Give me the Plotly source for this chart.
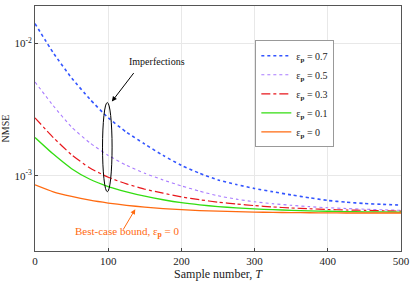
import plotly.graph_objects as go

T = [0, 25, 50, 75, 100, 125, 150, 175, 200, 225, 250, 275, 300, 325, 350, 375, 400, 425, 450, 475, 500]

nmse_07 = [0.01416, 0.00851, 0.00550, 0.00380, 0.00275, 0.00214, 0.00174, 0.001429, 0.001202, 0.001047,
           0.000933, 0.000861, 0.000804, 0.000759, 0.000719, 0.000684, 0.000653, 0.000634, 0.000619, 0.000610, 0.000603]
nmse_05 = [0.00513, 0.00339, 0.00234, 0.001778, 0.001429, 0.001202, 0.001047, 0.000933, 0.000841, 0.000767,
           0.000708, 0.000668, 0.000638, 0.000617, 0.000600, 0.000586, 0.000575, 0.000568, 0.000561, 0.000555, 0.000550]
nmse_03 = [0.00275, 0.00195, 0.001445, 0.001148, 0.000977, 0.000871, 0.000794, 0.000741, 0.000695, 0.000661,
           0.000634, 0.000614, 0.000597, 0.000583, 0.000573, 0.000565, 0.000558, 0.000553, 0.000550, 0.000546, 0.000543]
nmse_01 = [0.00195, 0.001462, 0.001135, 0.000944, 0.000832, 0.000759, 0.000703, 0.000661, 0.000628, 0.000605,
           0.000587, 0.000574, 0.000564, 0.000556, 0.000550, 0.000545, 0.000541, 0.000538, 0.000536, 0.000535, 0.000533]
nmse_00 = [0.000857, 0.000759, 0.000700, 0.000656, 0.000624, 0.000600, 0.000581, 0.000566, 0.000556, 0.000548,
           0.000542, 0.000537, 0.000533, 0.000531, 0.000528, 0.000527, 0.000526, 0.000525, 0.000525, 0.000525, 0.000525]

labels = ["ε<sub><b>p</b></sub> = 0.7", "ε<sub><b>p</b></sub> = 0.5", "ε<sub><b>p</b></sub> = 0.3",
          "ε<sub><b>p</b></sub> = 0.1", "ε<sub><b>p</b></sub> = 0"]
x_ticks = [0, 100, 200, 300, 400, 500]
y_ticks = [0.001, 0.01]
y_ticktext = ["10<sup>-3</sup>", "10<sup>-2</sup>"]

series = [nmse_07, nmse_05, nmse_03, nmse_01, nmse_00]
colors = ["#3355ff", "#a97bff", "#e8161b", "#33dd11", "#ff6a10"]
dashes = ["3px,3px", "dot", "dashdot", "solid", "solid"]
widths = [1.6, 1.1, 1.2, 1.3, 1.3]

FONT = "Liberation Serif"

fig = go.Figure()
for ys, lab, c, d, w in zip(series, labels, colors, dashes, widths):
    fig.add_trace(go.Scatter(x=T, y=ys, mode="lines", name=lab,
                             line=dict(color=c, dash=d, width=w, shape="spline", smoothing=0.5)))

fig.update_layout(
    width=415, height=284,
    margin=dict(l=35, r=13, t=5, b=31),
    paper_bgcolor="white", plot_bgcolor="white",
    font=dict(family=FONT, size=10, color="#222"),
    showlegend=True,
    legend=dict(x=0.602, y=0.86, xanchor="left", yanchor="top",
                bgcolor="white", bordercolor="#999", borderwidth=1,
                font=dict(family=FONT, size=10), itemwidth=30,
                tracegroupgap=0),
)
fig.update_xaxes(range=[0, 500], tickvals=x_ticks, ticks="inside", ticklen=3,
                 showline=True, mirror=True, linecolor="#555", linewidth=1,
                 showgrid=True, gridcolor="#e8e8e8", zeroline=False,
                 tickfont=dict(family=FONT, size=11),
                 title=dict(text="Sample number, <i>T</i>", font=dict(family=FONT, size=12), standoff=3))
fig.update_yaxes(type="log", range=[-3.567, -1.716], tickvals=y_ticks, ticktext=y_ticktext,
                 ticks="inside", ticklen=3, showline=True, mirror=True, linecolor="#555", linewidth=1,
                 showgrid=True, gridcolor="#e8e8e8", zeroline=False,
                 tickfont=dict(family=FONT, size=11),
                 title=dict(text="NMSE", font=dict(family=FONT, size=10), standoff=2))

# Ellipse around curves at T≈100
fig.add_shape(type="circle", xref="paper", yref="paper",
              x0=0.1845, x1=0.2106, y0=0.242, y1=0.606,
              line=dict(color="black", width=1))

# Imperfections label and arrow
fig.add_annotation(x=167, y=-2.134, xref="x", yref="y", text="Imperfections",
                   showarrow=False, font=dict(family=FONT, size=10, color="#111"))
fig.add_annotation(x=105, y=-2.438, xref="x", yref="y", text="", showarrow=True,
                   ax=23, ay=-30, arrowhead=2, arrowsize=1, arrowwidth=1, arrowcolor="black")

# Best-case bound label and arrow
fig.add_annotation(x=126, y=-3.42, xref="x", yref="y",
                   text="Best-case bound, ε<sub><b>p</b></sub> = 0",
                   showarrow=False, font=dict(family=FONT, size=11, color="#ff6a10"))
fig.add_annotation(x=137, y=-3.251, xref="x", yref="y", text="", showarrow=True,
                   ax=-13, ay=22, arrowhead=2, arrowsize=1, arrowwidth=1, arrowcolor="#ff6a10")

fig.write_html("out.html", config={"displayModeBar": False},
               post_script="document.body.style.margin='0';")
